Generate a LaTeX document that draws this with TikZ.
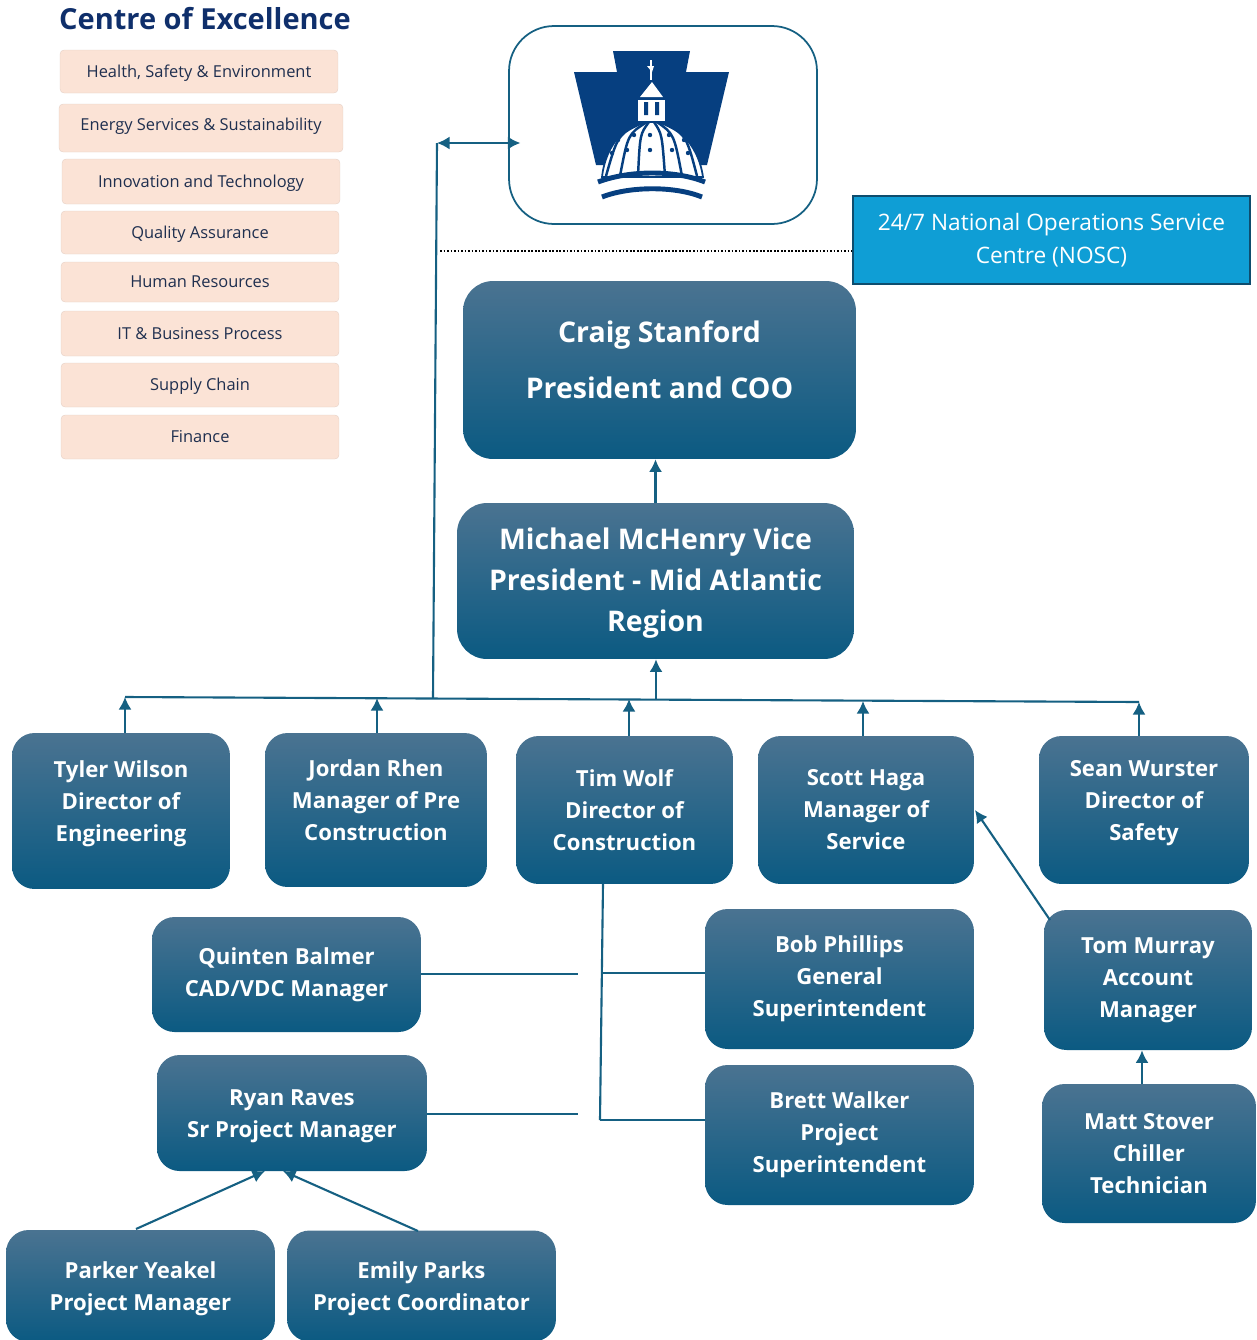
\documentclass[tikz,border=0pt]{standalone}
\usepackage{fontspec}
\setmainfont{Open Sans}
\usetikzlibrary{arrows.meta}
\definecolor{boxtop}{HTML}{4A7391}
\definecolor{boxmid}{HTML}{17658A}
\definecolor{boxbot}{HTML}{0B5A82}
\definecolor{linkblue}{HTML}{156082}
\definecolor{coepink}{HTML}{FBE3D6}
\definecolor{coetext}{HTML}{1F2F4F}
\definecolor{titleblue}{HTML}{0F2F6B}
\definecolor{noscblue}{HTML}{0F9ED5}
\definecolor{noscedge}{HTML}{0E4D6E}
\definecolor{lognavy}{HTML}{063F80}
\newcommand{\lift}{\\[-7pt]\mbox{}}
\newcommand{\drop}{\mbox{}\\[-6pt]}
\tikzset{
  orgbox/.style={rounded corners=0.45cm,top color=boxtop,middle color=boxmid,bottom color=boxbot,
    text=white,align=center,inner sep=0pt,font=\fontsize{12.6}{18.2}\selectfont\bfseries},
  bigbox/.style={orgbox,rounded corners=0.6cm,font=\fontsize{16.2}{23.2}\selectfont\bfseries},
  coebox/.style={fill=coepink,draw=coepink!80!gray,line width=0.2pt,rounded corners=0.08cm,text=coetext,
    minimum width=5.56cm,align=center,inner sep=0pt,text height=6.5pt,text depth=0pt,font=\fontsize{9.35}{11}\selectfont},
  link/.style={linkblue,line width=1.2pt},
  uparrow/.style={link,-{Latex[length=2.5mm,width=2.6mm]}}
}
\begin{document}
\begin{tikzpicture}[x=0.02cm,y=-0.02cm]
    \useasboundingbox (0,0) rectangle (1257,1340);

    \node[text=titleblue,font=\fontsize{16.5}{18}\selectfont\bfseries] (coetitle) at (205,19) {Centre of Excellence};
    \node[coebox,minimum height=0.86cm] (coea) at (199,71.5) {Health, Safety \& Environment};
    \node[coebox,minimum width=5.68cm,minimum height=0.96cm,text depth=3.8pt] (coeb) at (201,128) {Energy Services \& Sustainability};
    \node[coebox,minimum height=0.9cm] (coec) at (201,181.5) {Innovation and Technology};
    \node[coebox,minimum height=0.86cm] (coed) at (200,232.5) {Quality Assurance};
    \node[coebox,minimum height=0.8cm] (coee) at (200,282) {Human Resources};
    \node[coebox,minimum height=0.9cm] (coef) at (200,333.5) {IT \& Business Process};
    \node[coebox,minimum height=0.88cm] (coeg) at (200,385) {Supply Chain};
    \node[coebox,minimum height=0.88cm] (coeh) at (200,437) {Finance};

    \node[draw=linkblue,line width=1pt,rounded corners=0.9cm,minimum width=6.16cm,minimum height=3.96cm] (logobox) at (663,125) {};
    \fill[lognavy] (613,51) -- (690,51) -- (686,72) -- (729,72) -- (707,165) -- (596,165) -- (574,72) -- (617,72) -- cycle;
    \filldraw[fill=white,draw=lognavy,line width=1pt] (602,177) .. controls (606,142) and (628,122) .. (651,122)
        .. controls (674,122) and (698,142) .. (703,177) -- cycle;
    \foreach \tx/\bx/\cx in {644/606/618,647/620/628,649/638/640,654/665/662,657/682/674,660/697/686}
        \draw[lognavy,line width=1.4pt] (\tx,122) .. controls (\cx,134) .. (\bx,176);
    \foreach \sx/\sy in {634/135,650/135,669/135,627/150,650/150,672/150,612/153,688/153,618/140,684/140}
        \fill[lognavy] (\sx,\sy) circle (2.2);
    \draw[lognavy,line width=2.8pt] (598,182) .. controls (630,170) and (675,170) .. (705,182);
    \draw[lognavy,line width=2.8pt] (602,197) .. controls (630,186) and (675,186) .. (702,197);
    \fill[white] (638,100) rectangle (665,121);
    \fill[lognavy] (644,102) rectangle (648,115) (655,102) rectangle (659,115);
    \fill[white] (640,97) -- (652,82) -- (663,97) -- cycle;
    \fill[white] (650,60) rectangle (652,80);
    \fill[white] (647,66) -- (654,66) -- (652,72) -- cycle;

    \node[fill=noscblue,draw=noscedge,line width=1pt,text=white,align=center,inner sep=0pt,minimum width=7.94cm,minimum height=1.76cm,
        font=\fontsize{12.9}{18.7}\selectfont] (nosc) at (1051.5,240) {24/7 National Operations Service\\Centre (NOSC)};

    \node[bigbox,minimum width=7.86cm,minimum height=3.56cm,font=\fontsize{16.2}{32}\selectfont\bfseries] (craig) at (659.5,370) {Craig Stanford\\President and COO\\[-20pt]\mbox{}};
    \node[bigbox,minimum width=7.94cm,minimum height=3.12cm] (michael) at (655.5,581) {\mbox{}\\[-8.6pt]Michael McHenry Vice\\President - Mid Atlantic\\Region};

    \node[orgbox,minimum width=4.36cm,minimum height=3.12cm] (tyler) at (121,811) {Tyler Wilson\\Director of\\Engineering\lift};
    \node[orgbox,minimum width=4.44cm,minimum height=3.08cm] (jordan) at (376,810) {Jordan Rhen\\Manager of Pre\\Construction\lift};
    \node[orgbox,minimum width=4.34cm,minimum height=2.96cm] (tim) at (624.5,810) {Tim Wolf\\Director of\\Construction};
    \node[orgbox,minimum width=4.32cm,minimum height=2.96cm] (scott) at (866,810) {Scott Haga\\Manager of\\Service};
    \node[orgbox,minimum width=4.2cm,minimum height=2.96cm] (sean) at (1144,810) {Sean Wurster\\Director of\\Safety\lift};

    \node[orgbox,minimum width=5.38cm,minimum height=2.3cm] (quinten) at (286.5,974.5) {Quinten Balmer\\CAD/VDC Manager};
    \node[orgbox,minimum width=5.38cm,minimum height=2.8cm] (bob) at (839.5,979) {Bob Phillips\\General\\Superintendent};
    \node[orgbox,minimum width=4.16cm,minimum height=2.8cm] (tom) at (1148,980) {Tom Murray\\Account\\Manager};
    \node[orgbox,minimum width=5.4cm,minimum height=2.32cm] (ryan) at (292,1113) {\drop Ryan Raves\\Sr Project Manager};
    \node[orgbox,minimum width=5.38cm,minimum height=2.8cm] (brett) at (839.5,1135) {Brett Walker\\Project\\Superintendent};
    \node[orgbox,minimum width=4.28cm,minimum height=2.78cm] (matt) at (1149,1153.5) {Matt Stover\\Chiller\\Technician};
    \node[orgbox,minimum width=5.38cm,minimum height=2.24cm] (parker) at (140.5,1286) {\drop Parker Yeakel\\Project Manager};
    \node[orgbox,minimum width=5.38cm,minimum height=2.22cm] (emily) at (421.5,1286) {\drop Emily Parks\\Project Coordinator};

    \coordinate (busa) at (125,697);
    \coordinate (busb) at (377,698);
    \coordinate (busv) at (433,698);
    \coordinate (busc) at (629,699);
    \coordinate (busm) at (656,699.5);
    \coordinate (busd) at (863,701);
    \coordinate (buse) at (1139,702);
    \coordinate (logol) at (437,143);
    \coordinate (dotl) at (440,251);
    \coordinate (timtop) at (603,884);
    \coordinate (timmid) at (602,973);
    \coordinate (timlow) at (600,1120);
    \coordinate (quintenend) at (578,974);
    \coordinate (ryanend) at (578,1114);
    \coordinate (scottin) at (975,810);
    \coordinate (tomout) at (1050,920);
    \coordinate (ryanl) at (265,1171);
    \coordinate (ryanr) at (283,1171);
    \coordinate (parkerout) at (136,1229);
    \coordinate (emilyout) at (418,1231);

    \draw[link] (busa) -- (buse);
    \draw[uparrow] (busa |- tyler.north) -- (busa);
    \draw[uparrow] (busb |- jordan.north) -- (busb);
    \draw[uparrow] (busc |- tim.north) -- (busc);
    \draw[uparrow] (busd |- scott.north) -- (busd);
    \draw[uparrow] (buse |- sean.north) -- (buse);
    \draw[uparrow] (busm) -- (busm |- michael.south);
    \draw[uparrow] (michael.north) -- (michael.north |- craig.south);

    \draw[link] (busv) -- (logol);
    \draw[link,{Latex[length=2.5mm,width=2.6mm]}-{Latex[length=2.5mm,width=2.6mm]},shorten >=-7] (logol) -- (logol -| logobox.west);
    \draw[black,line width=1pt,densely dotted] (dotl) -- (dotl -| nosc.west);

    \draw[link] (timtop) -- (timlow);
    \draw[link] (timmid) -- (timmid -| bob.west);
    \draw[link] (timlow) -- (timlow -| brett.west);
    \draw[link] (quintenend -| quinten.east) -- (quintenend);
    \draw[link] (ryanend -| ryan.east) -- (ryanend);

    \draw[uparrow] (tomout) -- (scottin);
    \draw[uparrow] (matt.north -| 1142,0) -- (tom.south -| 1142,0);
    \draw[uparrow] (parkerout) -- (ryanl);
    \draw[uparrow] (emilyout) -- (ryanr);
\end{tikzpicture}
\end{document}
